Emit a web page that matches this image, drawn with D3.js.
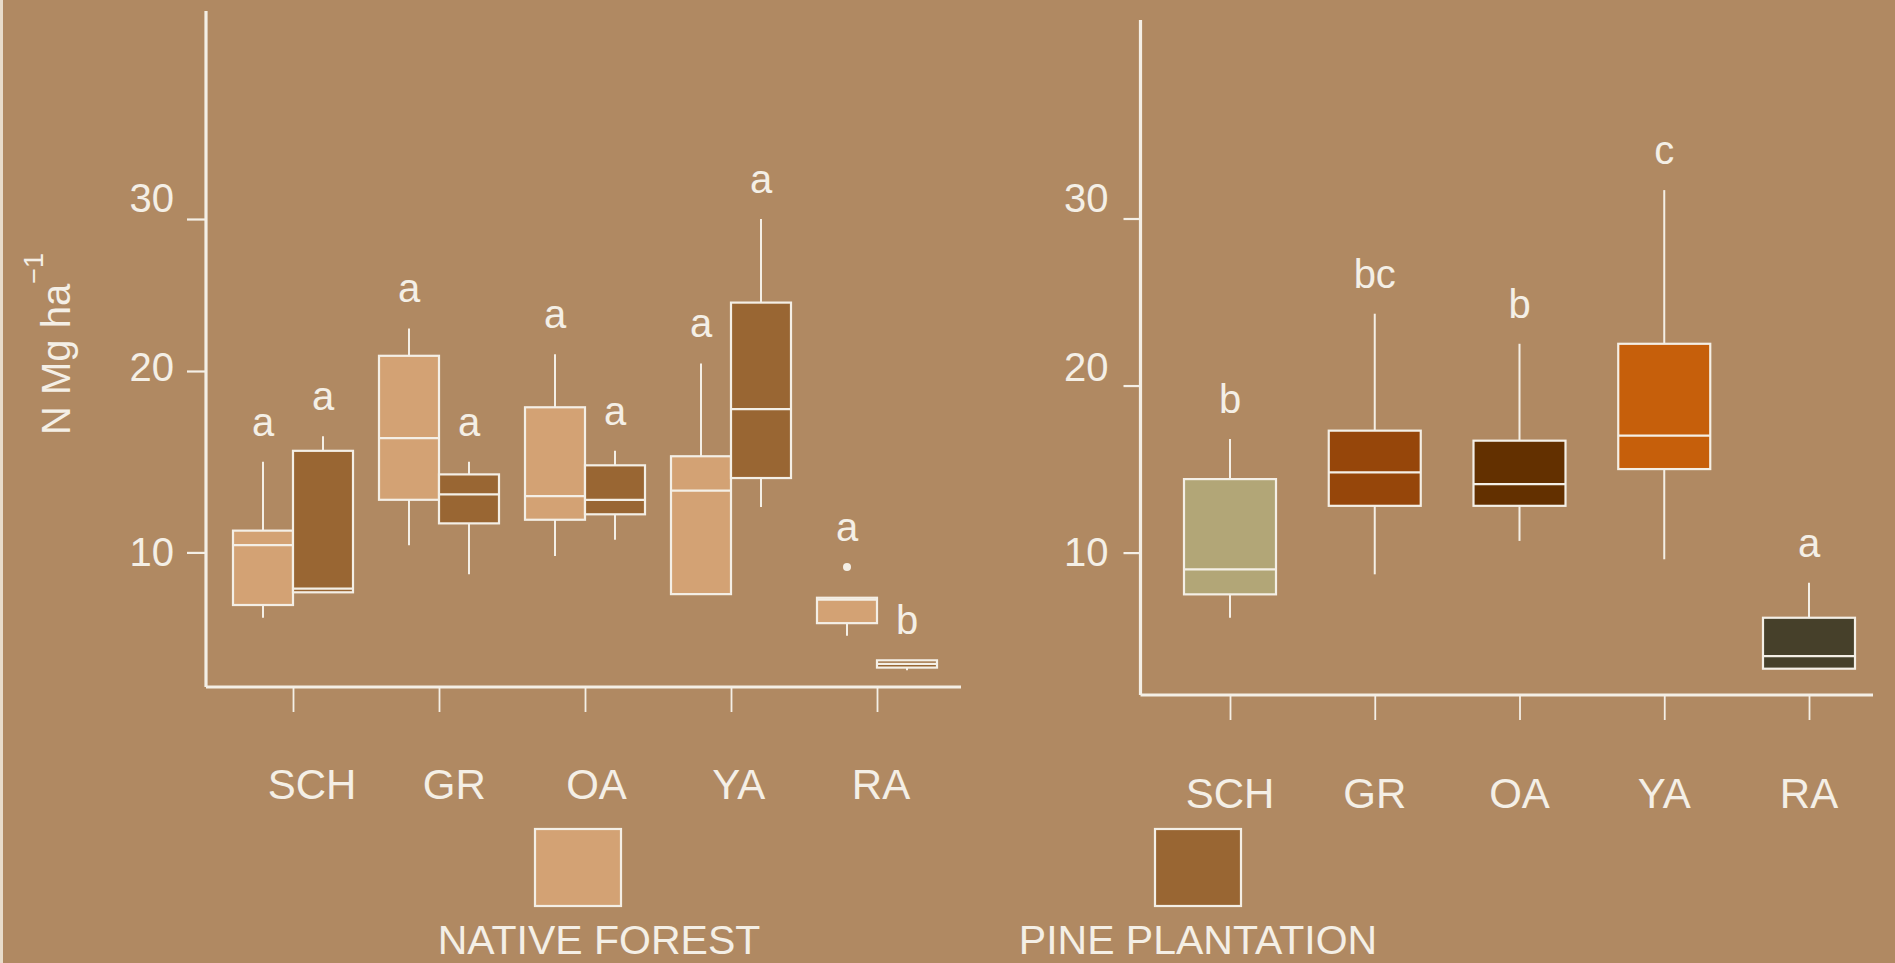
<!DOCTYPE html>
<html>
<head>
<meta charset="utf-8">
<script src="https://cdn.jsdelivr.net/npm/d3@7"></script>
<style>
  html, body { margin: 0; padding: 0; background: #B08962; }
  svg { display: block; }
  text { font-family: "Liberation Sans", Arial, Helvetica, sans-serif; fill: #F4EFE6; }
</style>
</head>
<body>
<svg id="chart" width="1895" height="963"></svg>
<script>
// ---- data -------------------------------------------------------------
const categories = ["SCH", "GR", "OA", "YA", "RA"];
const yTicks = [10, 20, 30];

// Left panel: native forest vs pine plantation (N Mg ha-1)
const nativeLow    = [6.4, 10.4, 9.8, 7.7, 5.4];
const nativeQ1     = [7.1, 12.9, 11.8, 7.7, 6.1];
const nativeMedian = [10.4, 16.3, 13.1, 13.4, 7.4];
const nativeQ3     = [11.2, 21.0, 18.0, 15.3, 7.5];
const nativeHigh   = [15.0, 22.8, 21.1, 20.5, 7.5];
const nativeOutliers = [[], [], [], [], [9.2]];
const nativeLetters  = ["a", "a", "a", "a", "a"];

const pineLow    = [7.8, 8.8, 10.7, 12.5, 3.5];
const pineQ1     = [7.8, 11.6, 12.1, 14.1, 3.65];
const pineMedian = [8.0, 13.2, 12.9, 17.9, 3.85];
const pineQ3     = [15.6, 14.3, 14.8, 24.5, 4.05];
const pineHigh   = [16.4, 15.0, 15.6, 30.0, 4.05];
const pineOutliers = [[], [], [], [], []];
const pineLetters  = ["a", "a", "a", "a", "b"];

// Right panel: all stands pooled by land-use class
const allLow    = [6.1, 8.7, 10.7, 9.6, 3.05];
const allQ1     = [7.5, 12.8, 12.8, 15.0, 3.05];
const allMedian = [9.0, 14.8, 14.1, 17.0, 3.8];
const allQ3     = [14.4, 17.3, 16.7, 22.5, 6.1];
const allHigh   = [16.8, 24.3, 22.5, 31.7, 8.2];
const allLetters = ["b", "bc", "b", "c", "a"];

const legendLabels = ["NATIVE FOREST", "PINE PLANTATION"];

// ---- styling ----------------------------------------------------------
const BG = "#B08962";
const INK = "#F4EFE6";
const NATIVE_FILL = "#D3A274";
const PINE_FILL = "#996633";
const classFills = ["#B2A677", "#96460A", "#633000", "#C65F0B", "#46402A"];

const svg = d3.select("#chart");
svg.append("rect").attr("width", 1895).attr("height", 963).attr("fill", BG);
svg.append("rect").attr("x", 0).attr("y", 0).attr("width", 3).attr("height", 963)
   .attr("fill", "#E8DCCB");

// shared position of the y tick numerals
const labelY = d3.scaleLinear().domain([10, 20, 30]).range([552, 367, 198]);

function drawAxes(g, x, y, frame, labelX) {
  // axis lines
  g.append("line")
    .attr("x1", frame.left).attr("x2", frame.left)
    .attr("y1", frame.top).attr("y2", frame.bottom)
    .attr("stroke", INK).attr("stroke-width", 3.2);
  g.append("line")
    .attr("x1", frame.left).attr("x2", frame.right)
    .attr("y1", frame.bottom).attr("y2", frame.bottom)
    .attr("stroke", INK).attr("stroke-width", 3.2);

  // y ticks
  const ya = g.append("g").attr("transform", `translate(${frame.left},0)`)
    .call(d3.axisLeft(y).tickValues(yTicks).tickSize(frame.yTick).tickFormat(""));
  ya.select(".domain").remove();
  ya.selectAll("line").attr("stroke", INK).attr("stroke-width", 2.2);

  g.selectAll("text.ytick").data(yTicks).join("text")
    .attr("class", "ytick")
    .attr("x", frame.left - 32)
    .attr("y", d => labelY(d))
    .attr("dy", "0.36em")
    .attr("text-anchor", "end")
    .attr("font-size", 40)
    .text(d => d);

  // x ticks
  const xa = g.append("g").attr("transform", `translate(0,${frame.bottom})`)
    .call(d3.axisBottom(x).tickSize(25).tickFormat(""));
  xa.select(".domain").remove();
  xa.selectAll("line").attr("stroke", INK).attr("stroke-width", 1.8);

  // category names
  g.selectAll("text.cat").data(categories).join("text")
    .attr("class", "cat")
    .attr("x", d => labelX(d))
    .attr("y", frame.catBaseline)
    .attr("text-anchor", "middle")
    .attr("font-size", 42)
    .text(d => d);
}

function drawBoxes(g, x, y, stats, opts) {
  const items = categories.map((c, i) => ({
    cat: c,
    cx: x(c) + opts.offset,
    low: stats.low[i], q1: stats.q1[i], med: stats.median[i],
    q3: stats.q3[i], high: stats.high[i],
    out: stats.outliers ? stats.outliers[i] : [],
    letter: stats.letters[i],
    fill: typeof opts.fill === "function" ? opts.fill(i) : opts.fill
  }));

  const b = g.selectAll(null).data(items).join("g");

  // whiskers
  b.filter(d => d.high > d.q3).append("line")
    .attr("x1", d => d.cx).attr("x2", d => d.cx)
    .attr("y1", d => y(d.q3)).attr("y2", d => y(d.high))
    .attr("stroke", INK).attr("stroke-width", 2);
  b.filter(d => d.low < d.q1).append("line")
    .attr("x1", d => d.cx).attr("x2", d => d.cx)
    .attr("y1", d => y(d.q1)).attr("y2", d => y(d.low))
    .attr("stroke", INK).attr("stroke-width", 2);

  // boxes
  b.append("rect")
    .attr("x", d => d.cx - opts.width / 2)
    .attr("width", opts.width)
    .attr("y", d => y(d.q3))
    .attr("height", d => Math.max(1, y(d.q1) - y(d.q3)))
    .attr("fill", d => d.fill)
    .attr("stroke", INK).attr("stroke-width", 2.2);

  // medians
  b.append("line")
    .attr("x1", d => d.cx - opts.width / 2).attr("x2", d => d.cx + opts.width / 2)
    .attr("y1", d => y(d.med)).attr("y2", d => y(d.med))
    .attr("stroke", INK).attr("stroke-width", 2.2);

  // outliers
  b.selectAll("circle").data(d => d.out.map(v => ({ cx: d.cx, v }))).join("circle")
    .attr("cx", d => d.cx).attr("cy", d => y(d.v)).attr("r", 4)
    .attr("fill", INK);

  // significance letters
  b.append("text")
    .attr("x", d => d.cx)
    .attr("y", d => y(d3.max([d.high, ...d.out])) - 26)
    .attr("text-anchor", "middle")
    .attr("font-size", 40)
    .text(d => d.letter);
}

// ---- left panel --------------------------------------------------------
const leftFrame = { left: 206, right: 961, top: 11, bottom: 687, yTick: 19, catBaseline: 799 };
const yL = d3.scaleLinear().domain([10, 20, 30]).range([552.4, 371, 219]);
const xL = d3.scalePoint().domain(categories).range([293, 877]);
const xLabelL = d3.scalePoint().domain(categories).range([312, 881]);
const left = svg.append("g");
drawAxes(left, xL, yL, leftFrame, xLabelL);
drawBoxes(left, xL, yL, {
  low: nativeLow, q1: nativeQ1, median: nativeMedian, q3: nativeQ3, high: nativeHigh,
  outliers: nativeOutliers, letters: nativeLetters
}, { offset: -30, width: 60, fill: NATIVE_FILL });
drawBoxes(left, xL, yL, {
  low: pineLow, q1: pineQ1, median: pineMedian, q3: pineQ3, high: pineHigh,
  outliers: pineOutliers, letters: pineLetters
}, { offset: 30, width: 60, fill: PINE_FILL });

// y-axis title
left.append("text")
  .attr("transform", "translate(70,344) rotate(-90)")
  .attr("text-anchor", "middle")
  .attr("font-size", 40)
  .call(t => {
    t.append("tspan").text("N Mg ha");
    t.append("tspan").attr("font-size", 27).attr("dy", "-1.0em").text("\u22121");
  });

// ---- right panel -------------------------------------------------------
const rightFrame = { left: 1140.5, right: 1873, top: 20, bottom: 695, yTick: 17, catBaseline: 808 };
const yR = d3.scaleLinear().domain([10, 30]).range([552.6, 218.5]);
const xR = d3.scalePoint().domain(categories).range([1230, 1809]);
const right = svg.append("g");
drawAxes(right, xR, yR, rightFrame, xR);
drawBoxes(right, xR, yR, {
  low: allLow, q1: allQ1, median: allMedian, q3: allQ3, high: allHigh,
  outliers: null, letters: allLetters
}, { offset: 0, width: 92, fill: i => classFills[i] });

// ---- legend -------------------------------------------------------------
const legend = svg.append("g");
const legendItems = [
  { label: legendLabels[0], fill: NATIVE_FILL, sx: 535, tx: 599 },
  { label: legendLabels[1], fill: PINE_FILL, sx: 1155, tx: 1198 }
];
legend.selectAll("rect").data(legendItems).join("rect")
  .attr("x", d => d.sx).attr("y", 829).attr("width", 86).attr("height", 77)
  .attr("fill", d => d.fill).attr("stroke", INK).attr("stroke-width", 2.2);
legend.selectAll("text").data(legendItems).join("text")
  .attr("x", d => d.tx).attr("y", 954)
  .attr("text-anchor", "middle")
  .attr("font-size", 41)
  .text(d => d.label);
</script>
</body>
</html>
